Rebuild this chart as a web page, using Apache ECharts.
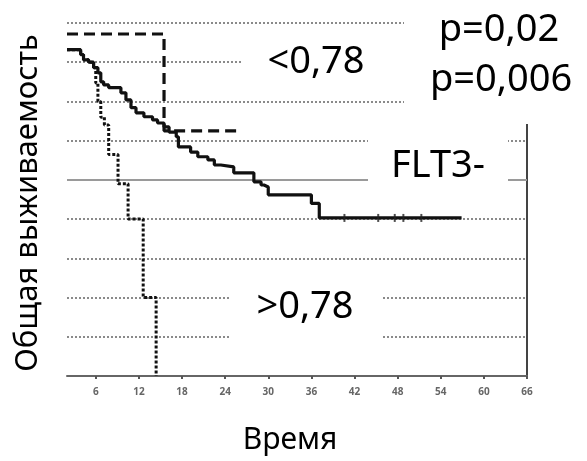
<!DOCTYPE html>
<html>
<head>
<meta charset="utf-8">
<script src="https://cdn.jsdelivr.net/npm/echarts@6/dist/echarts.min.js"></script>
<style>
  html, body { margin: 0; padding: 0; background: #fff; }
  #chart { width: 587px; height: 461px; }
</style>
</head>
<body>
<div id="chart"></div>
<script>
// месяцы, на которых кривая падает, и доля выживших после падения
const solidT = [2, 3.9, 4.3, 5.0, 5.7, 6.3, 6.7, 7.1, 7.8, 9.5, 10.2, 10.9, 11.6, 12.7, 13.9, 14.6, 15.5, 16.2, 17.2, 17.5, 19.2, 20.2, 21.6, 22.5, 23.4, 25.2, 28.0, 29.0, 29.4, 30.0, 36.0, 37.1, 56.9]
const solidS = [0.832, 0.819, 0.806, 0.80, 0.786, 0.773, 0.75, 0.742, 0.735, 0.722, 0.704, 0.684, 0.671, 0.661, 0.653, 0.645, 0.635, 0.622, 0.61, 0.584, 0.571, 0.559, 0.551, 0.538, 0.533, 0.518, 0.495, 0.487, 0.482, 0.462, 0.44, 0.403, 0.403]
const censorT = [40.6, 45.3, 47.6, 48.8, 51.3]

const dashT = [2, 15.5, 25.8]
const dashS = [0.872, 0.625, 0.625]

const dotT = [2, 3.9, 4.3, 5.0, 5.7, 6.0, 6.3, 6.7, 7.2, 7.8, 9.1, 10.5, 12.6, 14.4]
const dotS = [0.832, 0.819, 0.806, 0.80, 0.786, 0.747, 0.70, 0.66, 0.64, 0.565, 0.49, 0.40, 0.20, 0]

const xTicks = [6, 12, 18, 24, 30, 36, 42, 48, 54, 60, 66]

const zip = (t, s) => t.map((v, i) => [v, s[i]])

const chart = echarts.init(document.getElementById('chart'))
const font = '"Noto Sans", "DejaVu Sans", sans-serif'

const option = {
  animation: false,
  grid: { left: 67, right: 60, top: 23, bottom: 85 },
  xAxis: {
    type: 'value',
    min: 2,
    max: 66,
    axisLine: { lineStyle: { color: '#666', width: 2 } },
    axisTick: { customValues: xTicks, length: 3, lineStyle: { color: '#555', width: 2 } },
    axisLabel: { customValues: xTicks, color: '#666', fontSize: 10, fontWeight: 'bold', margin: 11, fontFamily: font },
    splitLine: { show: false }
  },
  yAxis: [
    {
      type: 'value',
      min: 0,
      max: 0.9,
      interval: 0.1,
      axisLine: { show: false },
      axisTick: { show: false },
      axisLabel: { show: false },
      splitLine: { lineStyle: { color: '#8a8a8a', type: [2, 2], width: 2 } }
    },
    {
      type: 'value',
      position: 'right',
      min: 0,
      max: 0.9,
      interval: 0.1,
      axisLine: { show: true, lineStyle: { color: '#444', width: 2 } },
      axisTick: { show: false },
      axisLabel: { show: false },
      splitLine: { show: false }
    }
  ],
  series: [
    {
      type: 'line',
      step: 'end',
      data: zip(solidT, solidS),
      symbol: 'none',
      lineStyle: { color: '#111', width: 3.2 },
      z: 5,
      markLine: {
        silent: true,
        symbol: 'none',
        label: { show: false },
        lineStyle: { color: '#9a9a9a', type: 'solid', width: 2 },
        data: [{ yAxis: 0.5 }],
        z: 1
      }
    },
    {
      type: 'line',
      step: 'end',
      data: zip(dashT, dashS),
      symbol: 'none',
      lineStyle: { color: '#111', width: 3.2, type: [11, 6] },
      z: 4
    },
    {
      type: 'line',
      step: 'end',
      data: zip(dotT, dotS),
      symbol: 'none',
      lineStyle: { color: '#111', width: 3, type: [3, 2] },
      z: 3
    },
    {
      type: 'scatter',
      data: censorT.map(t => [t, 0.403]),
      symbol: 'rect',
      symbolSize: [2, 8],
      itemStyle: { color: '#222' },
      z: 6
    }
  ],
  graphic: [
    { type: 'rect', z: 100, shape: { x: 404, y: 0, width: 183, height: 124 }, style: { fill: '#fff' } },
    { type: 'rect', z: 100, shape: { x: 242, y: 26, width: 162, height: 72 }, style: { fill: '#fff' } },
    { type: 'rect', z: 100, shape: { x: 368, y: 128, width: 140, height: 77 }, style: { fill: '#fff' } },
    { type: 'rect', z: 100, shape: { x: 230, y: 272, width: 152, height: 84 }, style: { fill: '#fff' } },
    { type: 'text', z: 110, x: 316, y: 62, style: { text: '<0,78', font: '38px ' + font, fill: '#000', textAlign: 'center', textVerticalAlign: 'middle' } },
    { type: 'text', z: 110, x: 499, y: 30, style: { text: 'p=0,02', font: '38px ' + font, fill: '#000', textAlign: 'center', textVerticalAlign: 'middle' } },
    { type: 'text', z: 110, x: 501, y: 80, style: { text: 'p=0,006', font: '38px ' + font, fill: '#000', textAlign: 'center', textVerticalAlign: 'middle' } },
    { type: 'text', z: 110, x: 438, y: 166, style: { text: 'FLT3-', font: '38px ' + font, fill: '#000', textAlign: 'center', textVerticalAlign: 'middle' } },
    { type: 'text', z: 110, x: 305, y: 307, style: { text: '>0,78', font: '38px ' + font, fill: '#000', textAlign: 'center', textVerticalAlign: 'middle' } },
    { type: 'text', z: 110, x: 290, y: 440, style: { text: 'Время', font: '30px ' + font, fill: '#000', textAlign: 'center', textVerticalAlign: 'middle' } },
    { type: 'text', z: 110, x: 28, y: 203, rotation: Math.PI / 2, style: { text: 'Общая выживаемость', font: '31px ' + font, fill: '#000', textAlign: 'center', textVerticalAlign: 'middle' } }
  ]
}

chart.setOption(option)
window.addEventListener('resize', () => chart.resize())
</script>
</body>
</html>
